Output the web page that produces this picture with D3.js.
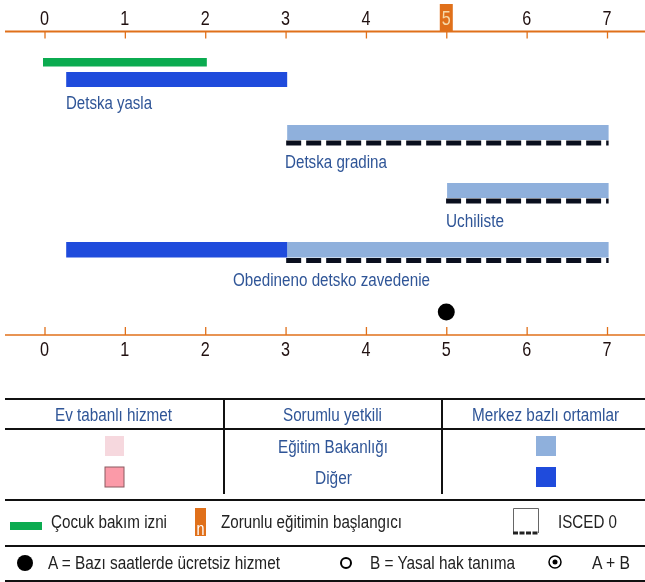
<!DOCTYPE html>
<html><head><meta charset="utf-8">
<script src="https://cdn.jsdelivr.net/npm/d3@7"></script>
<style>html,body{margin:0;background:#fff}svg{display:block;filter:blur(0.35px)}text{font-family:"Liberation Sans",Arial,sans-serif}</style>
</head><body><svg id="c" width="645" height="582"></svg>
<script>
const ageTicks=[0,1,2,3,4,5,6,7];
const compulsoryAge=[5];
const leaveBar=[0,2.02];
const homeBars=["Detska yasla","Detska gradina","Uchiliste","Obedineno detsko zavedenie"];
const otherStart=[0.27,null,null,0.27];
const otherEnd=[3.02,null,null,3.02];
const eduStart=[null,3.02,5.01,3.02];
const eduEnd=[null,7.02,7.02,7.02];
const freeHoursAge=[5];
const tableHeaders=["Ev tabanlı hizmet","Sorumlu yetkili","Merkez bazlı ortamlar"];
const tableRows=["Eğitim Bakanlığı","Diğer"];
const colEdu="#8fb0dc",colOther="#1f4bdc",colGreen="#0bab50",colOrange="#e0701a",colText="#2f5597";

const svg=d3.select("#c");
const x=d3.scaleLinear().domain([0,7]).range([44.5,607]);
function T(s,px,py,w,o={}){
  return svg.append("text").attr("x",px).attr("y",py).text(s)
   .attr("font-size",o.size||17.5).attr("fill",o.fill||colText).attr("text-anchor",o.anchor||"start")
   .attr("textLength",w).attr("lengthAdjust","spacingAndGlyphs");
}
function L(x1,y1,x2,y2,c="#111",w=2,dash){
  const l=svg.append("line").attr("x1",x1).attr("y1",y1).attr("x2",x2).attr("y2",y2).attr("stroke",c).attr("stroke-width",w);
  if(dash)l.attr("stroke-dasharray",dash);return l;
}
// axes
const axisTopG=svg.append("g").attr("transform","translate(0,31.5)").call(d3.axisBottom(x).tickValues(ageTicks).tickSize(7).tickPadding(0).tickFormat(""));
const axisBotG=svg.append("g").attr("transform","translate(0,335)").call(d3.axisTop(x).tickValues(ageTicks).tickSize(8).tickFormat(""));
[axisTopG,axisBotG].forEach(g=>{g.select(".domain").remove();g.selectAll("line").attr("stroke",colOrange).attr("stroke-width",1.3);});
L(5,31.5,645,31.5,colOrange,2);L(5,335,645,335,colOrange,1.6);
// compulsory marker
compulsoryAge.forEach(a=>svg.append("rect").attr("x",x(a)-6.5).attr("y",4).attr("width",13).attr("height",27).attr("fill",colOrange));
ageTicks.forEach(a=>{
  const isC=compulsoryAge.includes(a);
  T(String(a),x(a)-4.5,24.5,9,{size:21,fill:isC?"#f6d9a8":"#201010"});
  T(String(a),x(a)-4.5,356,9,{size:21,fill:"#201010"});
});
// bars
const barY=[72,125,183,242],barH=[15,15,15,15.5];
svg.append("rect").attr("x",x(leaveBar[0])-1.5).attr("y",58).attr("width",x(leaveBar[1])-x(leaveBar[0])+1.5).attr("height",8.5).attr("fill",colGreen);
homeBars.forEach((n,i)=>{
  if(eduStart[i]!=null){
    svg.append("rect").attr("x",x(eduStart[i])).attr("y",barY[i]).attr("width",x(eduEnd[i])-x(eduStart[i])).attr("height",barH[i]).attr("fill",colEdu);
    L(x(eduStart[i])-1,barY[i]+barH[i]+3,x(eduEnd[i]),barY[i]+barH[i]+3,"#0a0f1e",5,"15 5");
  }
  if(otherStart[i]!=null)
    svg.append("rect").attr("x",x(otherStart[i])).attr("y",barY[i]).attr("width",x(otherEnd[i])-x(otherStart[i])).attr("height",barH[i]).attr("fill",colOther);
});
T(homeBars[0],66,109,86);
T(homeBars[1],285,168,102);
T(homeBars[2],446,227,58);
T(homeBars[3],233,286,197);
freeHoursAge.forEach(a=>svg.append("circle").attr("cx",x(a)).attr("cy",312).attr("r",8.5).attr("fill","#000"));
// table
[399,429,500,546,581].forEach(y=>L(5,y,645,y,"#111",2));
[224,442].forEach(v=>L(v,399,v,494,"#111",2));
T(tableHeaders[0],55,421,117);
T(tableHeaders[1],283,421,99);
T(tableHeaders[2],472,421,147);
T(tableRows[0],278,453,110);
T(tableRows[1],315,484,37);
[[105,436,"#f6d8de",null],[105,467,"#fb9aa8","#8a5a60"],[536,436,colEdu,null],[536,467,colOther,null]].forEach(s=>{
  const r=svg.append("rect").attr("x",s[0]).attr("y",s[1]).attr("width",s[0]==105?19:20).attr("height",20).attr("fill",s[2]);
  if(s[3])r.attr("stroke",s[3]);
});
// legend 1
svg.append("rect").attr("x",10).attr("y",522).attr("width",32).attr("height",8).attr("fill",colGreen);
T("Çocuk bakım izni",51,528,116,{fill:"#222"});
svg.append("rect").attr("x",195).attr("y",508).attr("width",11).attr("height",28).attr("fill",colOrange);
T("n",196.5,535,8,{size:19,fill:"#fff"});
T("Zorunlu eğitimin başlangıcı",221,528,181,{fill:"#222"});
svg.append("path").attr("d","M513.5,533V508.5H538.5V533").attr("fill","none").attr("stroke","#666");
L(513,533,539,533,"#222",3,"5 1.5");
T("ISCED 0",558,528,59,{fill:"#222"});
// legend 2
svg.append("circle").attr("cx",25).attr("cy",563).attr("r",8).attr("fill","#000");
T("A = Bazı saatlerde ücretsiz hizmet",48,569,232,{fill:"#222"});
svg.append("circle").attr("cx",346).attr("cy",563).attr("r",5).attr("fill","#fff").attr("stroke","#000").attr("stroke-width",2);
T("B = Yasal hak tanıma",370,569,145,{fill:"#222"});
svg.append("circle").attr("cx",555).attr("cy",562).attr("r",6).attr("fill","#fff").attr("stroke","#000").attr("stroke-width",1.5);
svg.append("circle").attr("cx",555).attr("cy",562).attr("r",2.5).attr("fill","#000");
T("A + B",592,569,38,{fill:"#222"});
</script></body></html>
